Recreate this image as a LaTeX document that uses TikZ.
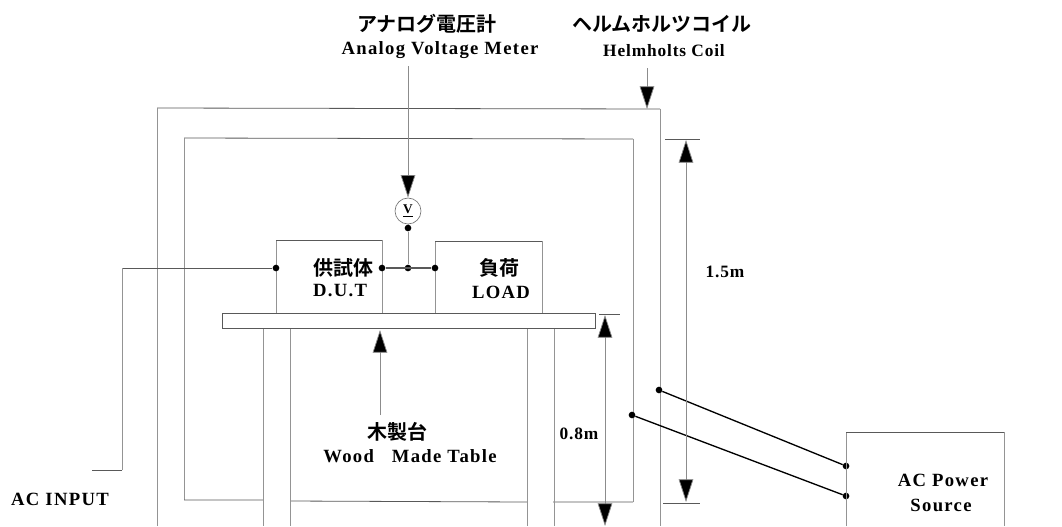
\documentclass[tikz,border=0pt]{standalone}
\usepackage{fontspec}
\setmainfont{Liberation Serif}
\newfontfamily\jp{Noto Sans CJK JP}[BoldFont=* Bold]
\usetikzlibrary{arrows.meta}
\tikzset{
 x=0.75pt,y=-0.75pt,
 vline/.style={draw=black!42,line width=0.55pt},
 hline/.style={draw=black!65,line width=0.6pt},
 wire/.style={draw=black,line width=1pt},
 dimline/.style={draw=black!45,line width=0.55pt,-{Triangle[length=17pt,width=11pt,fill=black]}},
 term/.style={circle,fill=black,inner sep=0pt,minimum size=5pt},
 en/.style={font=\bfseries\fontsize{14}{16}\selectfont\addfontfeatures{LetterSpace=7},inner sep=0pt,anchor=center},
 ensmall/.style={font=\bfseries\fontsize{13}{15}\selectfont\addfontfeatures{LetterSpace=5},inner sep=0pt,anchor=center},
 ja/.style={font=\jp\bfseries\fontsize{15}{17}\selectfont,inner sep=0pt,anchor=center},
}
\begin{document}
\begin{tikzpicture}
\useasboundingbox (0,0) rectangle (1062,526);
\clip (0,0) rectangle (1062,526);
% coil
\draw[hline] (157,108) -- (660,109);
\draw[hline] (184,138) -- (633,139);
\draw[vline] (157,108) -- (157,526);
\draw[vline] (660,109) -- (660,526);
\draw[vline] (184,138) -- (184,500) (633,139) -- (633,502);
\draw[hline] (184,500) -- (263,500) (290,501) -- (527,502) (553,502) -- (633,502);
% table legs
\draw[vline] (263,329) -- (263,526) (290,329) -- (290,526) (527,329) -- (527,526) (554,329) -- (554,526);
% boxes
\draw[vline] (276,313) -- (276,240) (382,240) -- (382,313);
\draw[hline] (276,240) -- (382,240);
\draw[vline] (435,313) -- (435,241) (542,241) -- (542,313);
\draw[hline] (435,241) -- (542,241);
\node[draw=black!65,line width=0.6pt,fill=white,minimum width=373*0.75pt,minimum height=15*0.75pt,inner sep=0pt] (table) at (408.5,321) {};
\node[circle,draw=black!55,line width=0.5pt,minimum size=26*0.75pt,inner sep=0pt,font=\bfseries\fontsize{10}{10}\selectfont] (vm) at (408,211) {\underline{V}};
% terminals
\node[term] (t1) at (276,268) {};
\node[term] (t2) at (382,268) {};
\node[term] (t3) at (408,268) {};
\node[term] (t4) at (435,268) {};
\node[term] (t5) at (408,228) {};
\node[term] (p1) at (659,390) {};
\node[term] (p2) at (632,415) {};
\node[term] (s1) at (846,466) {};
\node[term] (s2) at (846,496) {};
\coordinate (in1) at (122,268);
\coordinate (in2) at (122,470);
\coordinate (in3) at (92,470);
\draw[hline] (t1) -- (in1);
\draw[vline] (in1) -- (in2);
\draw[hline] (in2) -- (in3);
\draw[hline,line width=0.8pt] (t2) -- (t4);
\draw[vline] (t5) -- (t3);
\draw[vline] (vm) -- (t5);
\draw[wire] (p1) -- (s1);
\draw[wire] (p2) -- (s2);
% source box
\draw[vline] (846,526) -- (846,432) (1004,432) -- (1004,526);
\draw[hline] (846,432) -- (1004,432);
% arrows
\coordinate (a1) at (408,66);
\draw[dimline] (a1) -- (vm.north);
\coordinate (a2) at (647,68);\coordinate (a2t) at (647,109);
\draw[dimline] (a2) -- (a2t);
\coordinate (a3) at (380,415);\coordinate (a3t) at (380,330);
\draw[dimline] (a3) -- (a3t);
% 1.5 m
\draw[hline] (665,139) -- (700,139) (663,503) -- (700,503);
\coordinate (d1) at (686,300);\coordinate (d1t) at (686,140);\coordinate (d1b) at (686,502);
\draw[dimline] (d1) -- (d1t);
\draw[dimline] (d1) -- (d1b);
% 0.8 m
\draw[hline] (599,314) -- (620,314);
\coordinate (d2) at (605,420);\coordinate (d2t) at (605,315);\coordinate (d2b) at (605,526);
\draw[dimline] (d2) -- (d2t);
\draw[dimline] (d2) -- (d2b);
% labels
\node[ja] (l1) at (427,24) {アナログ電圧計};
\node[en] (l2) at (440,50) {Analog Voltage Meter};
\node[ja] (l3) at (662,24) {ヘルムホルツコイル};
\node[ensmall] (l4) at (664,51) {Helmholts Coil};
\node[ja] (l5) at (343,268) {供試体};
\node[en] (l6) at (340,291) {D.U.T};
\node[ja] (l7) at (499,268) {負荷};
\node[en] (l8) at (501,292) {LOAD};
\node[ensmall] (l9) at (725,272) {1.5m};
\node[ensmall] (l10) at (579,434) {0.8m};
\node[ja] (l11) at (397,432) {木製台};
\node[en] (l12) at (410,456) {Wood\ \ \ Made Table};
\node[en] (l13) at (60,499) {AC INPUT};
\node[en] (l14) at (943,480) {AC Power};
\node[en] (l15) at (941,505) {Source};
\end{tikzpicture}
\end{document}
